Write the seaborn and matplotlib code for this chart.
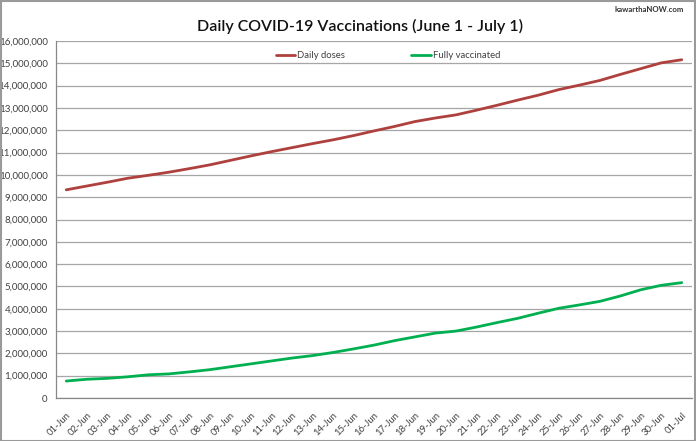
import matplotlib
matplotlib.use("Agg")
import matplotlib.pyplot as plt
import seaborn as sns
import pandas as pd
from matplotlib.patches import Rectangle
from matplotlib.ticker import FuncFormatter, MultipleLocator, FixedLocator

dates = ["01-Jun", "02-Jun", "03-Jun", "04-Jun", "05-Jun", "06-Jun", "07-Jun", "08-Jun",
         "09-Jun", "10-Jun", "11-Jun", "12-Jun", "13-Jun", "14-Jun", "15-Jun", "16-Jun",
         "17-Jun", "18-Jun", "19-Jun", "20-Jun", "21-Jun", "22-Jun", "23-Jun", "24-Jun",
         "25-Jun", "26-Jun", "27-Jun", "28-Jun", "29-Jun", "30-Jun", "01-Jul"]

daily_doses = [9.33, 9.50, 9.67, 9.85, 9.98, 10.12, 10.28, 10.45, 10.65, 10.85, 11.04,
               11.22, 11.40, 11.57, 11.76, 11.97, 12.17, 12.39, 12.55, 12.69, 12.90,
               13.12, 13.35, 13.57, 13.82, 14.02, 14.23, 14.50, 14.76, 15.02, 15.16]
daily_doses = [v * 1e6 for v in daily_doses]

fully_vaccinated = [0.76, 0.84, 0.88, 0.95, 1.04, 1.08, 1.17, 1.27, 1.40, 1.53, 1.66,
                    1.79, 1.90, 2.04, 2.20, 2.37, 2.57, 2.74, 2.91, 3.00, 3.18,
                    3.38, 3.57, 3.80, 4.02, 4.17, 4.33, 4.57, 4.85, 5.05, 5.17]
fully_vaccinated = [v * 1e6 for v in fully_vaccinated]

series_names = ["Daily doses", "Fully vaccinated"]
colors = ["#AE403D", "#00B050"]

df = pd.DataFrame({
    "date": dates * 2,
    "value": daily_doses + fully_vaccinated,
    "series": [series_names[0]] * len(dates) + [series_names[1]] * len(dates),
})

sns.set_style("white")
plt.rcParams["font.family"] = ["Lato", "DejaVu Sans"]

fig = plt.figure(figsize=(6.96, 4.41), dpi=100)
ax = fig.add_axes([56 / 696, 1 - 398 / 441, (692 - 56) / 696, (398 - 41) / 441])

sns.lineplot(data=df, x="date", y="value", hue="series", palette=colors,
             linewidth=2.0, ax=ax, sort=False)

ax.set_xlim(-0.5, len(dates) - 0.5)
ax.set_ylim(0, 16e6)
ax.yaxis.set_major_locator(MultipleLocator(1e6))
ax.yaxis.set_major_formatter(FuncFormatter(lambda v, p: f"{int(v):,}"))
ax.grid(axis="y", color="#A6A6A6", linewidth=0.9)
ax.set_axisbelow(True)

ax.set_xticks(range(len(dates)))
ax.set_xticklabels(dates, rotation=45, ha="right", rotation_mode="anchor", fontsize=6.8,
                   color="#404040")
ax.xaxis.set_minor_locator(FixedLocator([i - 0.5 for i in range(len(dates) + 1)]))
ax.tick_params(axis="x", which="major", length=0, pad=9)
ax.tick_params(axis="x", which="minor", length=4, color="#888888", width=0.8)
ax.tick_params(axis="y", length=4, color="#888888", width=0.8, labelsize=7,
               labelcolor="#404040", pad=2)

for s in ["top", "right"]:
    ax.spines[s].set_visible(False)
for s in ["left", "bottom"]:
    ax.spines[s].set_color("#888888")
    ax.spines[s].set_linewidth(0.9)

ax.set_xlabel("")
ax.set_ylabel("")

leg = ax.legend(loc="upper center", bbox_to_anchor=(0.522, 0.995), ncol=2, frameon=False,
                fontsize=6.8, handlelength=2.1, handletextpad=0.2, columnspacing=7.0)
for t in leg.get_texts():
    t.set_color("#404040")

fig.text(360 / 696, 1 - 26 / 441, "Daily COVID-19 Vaccinations (June 1 - July 1)",
         ha="center", va="center", fontsize=11.5, fontweight="semibold", color="#111111")
fig.text(684 / 696, 1 - 9.5 / 441, "kawarthaNOW.com", ha="right", va="center",
         fontsize=5.6, fontweight="bold", color="#333333")

fig.patches.append(Rectangle((0.001, 0.001), 0.997, 0.996, transform=fig.transFigure,
                             fill=False, edgecolor="#9a9a9a", linewidth=1.5))

fig.savefig("out.png", dpi=100)
